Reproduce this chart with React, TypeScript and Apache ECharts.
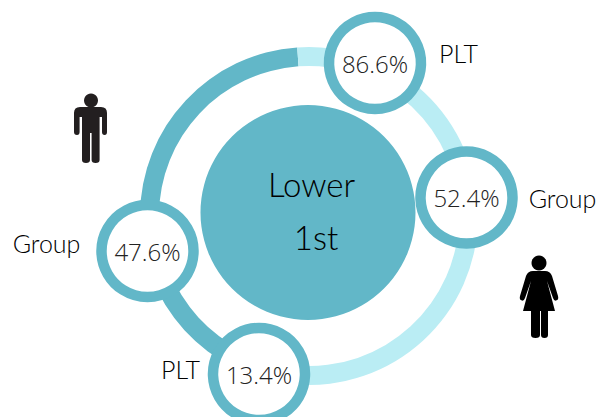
import React, { useEffect, useRef } from "react";
import * as echarts from "echarts";

const ringNames = ["Male", "Female"];
const ringValues = [47.6, 52.4];
const bubbleLabels = ["86.6%", "52.4%", "47.6%", "13.4%"];
const bubbleValues = [86.6, 52.4, 47.6, 13.4];
const bubbleCentres = [[375, 63], [466.5, 197.5], [147.5, 251], [259, 374]];
const captions = ["PLT", "Group", "Group", "PLT"];
const captionPlaces = [[458.5, 52.5], [562.5, 198], [46.5, 243], [180.5, 369]];
const centreLines = ["Lower", "1st"];
const centrePlaces = [[311.5, 184], [316, 237]];

const DARK = "#62B7C8";
const LIGHT = "#BAEDF4";
const LABEL_FONT = "Lato";
const NUM_FONT = "Open Sans";

const MAN = "M80 107H101Q107 107 107 113V132Q107 135 104.6 135Q102 135 102 132V117H99.6V160Q99.6 163 95.6 163Q91.6 163 91.6 160V133H90V160Q90 163 86 163Q82 163 82 160V117H79.6V132Q79.6 135 77 135Q74 135 74 132V113Q74 107 80 107Z";
const WOMAN = "M533 271H545Q550 271 552 276L558 296Q559 300 556 300.6Q554 301 553 298L547 281L555 311H548V335Q548 338 544.5 338Q541 338 541 335V311H540V335Q540 338 535.5 338Q531 338 531 335V311H523L531 281L525 298Q524 301 522 300.6Q519 300 520 296L526 276Q528 271 533 271Z";
echarts.graphic.registerShape("manIcon", echarts.graphic.extendPath(MAN, {}) as any);
echarts.graphic.registerShape("womanIcon", echarts.graphic.extendPath(WOMAN, {}) as any);

export default function App() {
  const ref = useRef<HTMLDivElement>(null);
  useEffect(() => {
    document.body.style.margin = "0";
    const chart = echarts.init(ref.current!, undefined, { renderer: "svg" });
    const base = { type: "pie", silent: true, animation: false, emphasis: { disabled: true }, labelLine: { show: false } };
    chart.setOption({
      animation: false,
      series: [
        {
          ...base,
          center: [309, 216],
          radius: [150, 169],
          startAngle: 94,
          clockwise: false,
          z: 1,
          label: { show: false },
          data: ringNames.map((name, i) => ({
            name,
            value: ringValues[i],
            itemStyle: { color: i === 0 ? DARK : LIGHT },
          })),
        },
        {
          ...base,
          center: [308, 212.5],
          radius: [0, 107.5],
          z: 2,
          label: { show: false },
          data: [{ name: "Lower 1st", value: 1, itemStyle: { color: DARK } }],
        },
        ...bubbleValues.map((value, i) => ({
          ...base,
          center: bubbleCentres[i],
          radius: [0, 46],
          z: 3,
          label: {
            show: true,
            position: "center",
            formatter: bubbleLabels[i],
            fontFamily: NUM_FONT,
            fontWeight: 300,
            fontSize: 24,
            color: "#222222",
            padding: [0, 0, 2, 0],
          },
          data: [{ name: bubbleLabels[i], value, itemStyle: { color: "#fff", borderColor: DARK, borderWidth: 10.5 } }],
        })),
      ],
      graphic: [
        ...captions.map((text, i) => ({
          type: "text",
          x: captionPlaces[i][0],
          y: captionPlaces[i][1],
          z: 20,
          style: { text, fontFamily: LABEL_FONT, fontWeight: 300, fontSize: 25, fill: "#000", align: "center", verticalAlign: "middle" },
        })),
        ...centreLines.map((text, i) => ({
          type: "text",
          x: centrePlaces[i][0],
          y: centrePlaces[i][1],
          z: 20,
          style: { text, fontFamily: LABEL_FONT, fontWeight: 300, fontSize: 33, fill: "#000", align: "center", verticalAlign: "middle" },
        })),
        { type: "circle", z: 20, shape: { cx: 91, cy: 100.5, r: 7 }, style: { fill: "#231F20" } },
        { type: "manIcon", z: 20, style: { fill: "#231F20" } },
        { type: "circle", z: 20, shape: { cx: 539, cy: 263, r: 7.5 }, style: { fill: "#000" } },
        { type: "womanIcon", z: 20, style: { fill: "#000" } },
      ],
    });
    return () => chart.dispose();
  }, []);
  return <div ref={ref} style={{ width: 604, height: 417 }} />;
}
